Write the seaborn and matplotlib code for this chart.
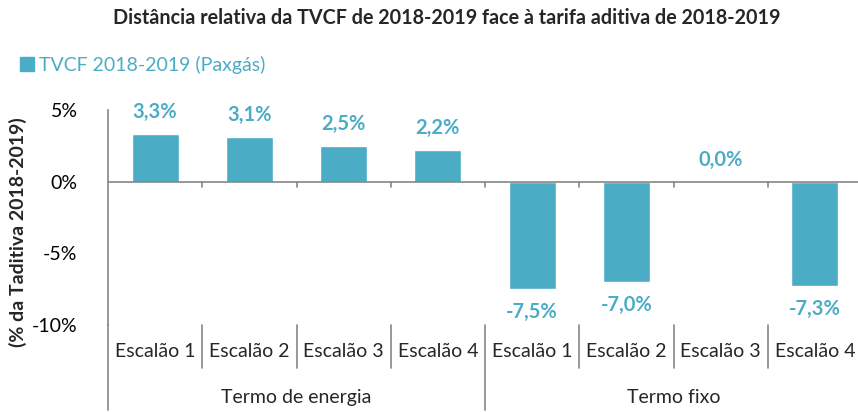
import matplotlib
matplotlib.use("Agg")
import matplotlib.pyplot as plt
import matplotlib.transforms as mtransforms
from matplotlib.lines import Line2D
from matplotlib.patches import Patch
import pandas as pd
import seaborn as sns

# data
escaloes = ["Escalão 1", "Escalão 2", "Escalão 3", "Escalão 4",
            "Escalão 1", "Escalão 2", "Escalão 3", "Escalão 4"]
grupos = ["Termo de energia", "Termo fixo"]
valores = [3.3, 3.1, 2.5, 2.2, -7.5, -7.0, 0.0, -7.3]
serie = "TVCF 2018-2019 (Paxgás)"
yticks = [5, 0, -5, -10]

cor = "#4BACC6"
cinza = "#868686"

sns.set_theme(style="white")
plt.rcParams["font.family"] = ["Lato", "DejaVu Sans"]

df = pd.DataFrame({"pos": range(len(valores)), "valor": valores})

fig = plt.figure(figsize=(8.58, 4.12), dpi=100)
ax = fig.add_axes([108 / 858, (412 - 325) / 412, 754 / 858, 215 / 412])

sns.barplot(data=df, x="pos", y="valor", color=cor, width=0.5,
            saturation=1, ax=ax)

ax.set_xlim(-0.5, 7.5)
ax.set_ylim(-10, 5)
ax.set_yticks(yticks)
ax.set_yticklabels([f"{t}%" for t in yticks], fontsize=14, color="#000000")
ax.tick_params(axis="y", length=0, pad=22)
ax.set_xticks(range(len(escaloes)))
ax.set_xticklabels(escaloes, fontsize=14)
ax.tick_params(axis="x", length=0, pad=13)
ax.set_xlabel("")
ax.set_ylabel("")

for s in ["top", "right", "bottom"]:
    ax.spines[s].set_visible(False)
ax.spines["left"].set_color(cinza)
ax.spines["left"].set_linewidth(1.2)

# zero line with small ticks
ax.axhline(0, color=cinza, lw=1.2, zorder=3)
for b in range(len(escaloes)):
    ax.plot([b + 0.5, b + 0.5], [0, -0.35], color=cinza, lw=1.2, clip_on=False)

# category separators below axis
trans = mtransforms.blended_transform_factory(ax.transData, ax.transAxes)
for b in range(len(escaloes)):
    x = b + 0.5
    bottom = -0.395 if b in (3, 7) else -0.2
    ax.add_line(Line2D([x, x], [0, bottom], transform=trans, color=cinza,
                       lw=1.2, clip_on=False))
ax.add_line(Line2D([-0.5, -0.5], [0, -0.395], transform=trans, color=cinza,
                   lw=1.2, clip_on=False))
for i, g in enumerate(grupos):
    ax.text(1.5 + 4 * i, -0.335, g, transform=trans, ha="center", va="center",
            fontsize=14)

# value labels
for i, v in enumerate(valores):
    txt = f"{v:.1f}%".replace(".", ",")
    if v >= 0:
        ax.text(i, v + 0.85, txt, ha="center", va="bottom", color=cor,
                fontsize=14.5, fontweight="bold")
    else:
        ax.text(i, v - 0.9, txt, ha="center", va="top", color=cor,
                fontsize=14.5, fontweight="bold")

fig.text(447 / 858, 1 - 18 / 412,
         "Distância relativa da TVCF de 2018-2019 face à tarifa aditiva de 2018-2019",
         ha="center", va="center", fontsize=14.2, fontweight="bold")
fig.text(18 / 858, 1 - 232 / 412, "(% da Taditiva 2018-2019)", rotation=90,
         ha="center", va="center", fontsize=14, fontweight="bold")

fig.legend(handles=[Patch(color=cor, label=serie)], loc="center left",
           bbox_to_anchor=(20 / 858, 1 - 65 / 412), frameon=False,
           fontsize=14, labelcolor=cor, handlelength=0.7, handleheight=0.7,
           handletextpad=0.3, borderaxespad=0, borderpad=0)

fig.savefig("out.png", dpi=100)
